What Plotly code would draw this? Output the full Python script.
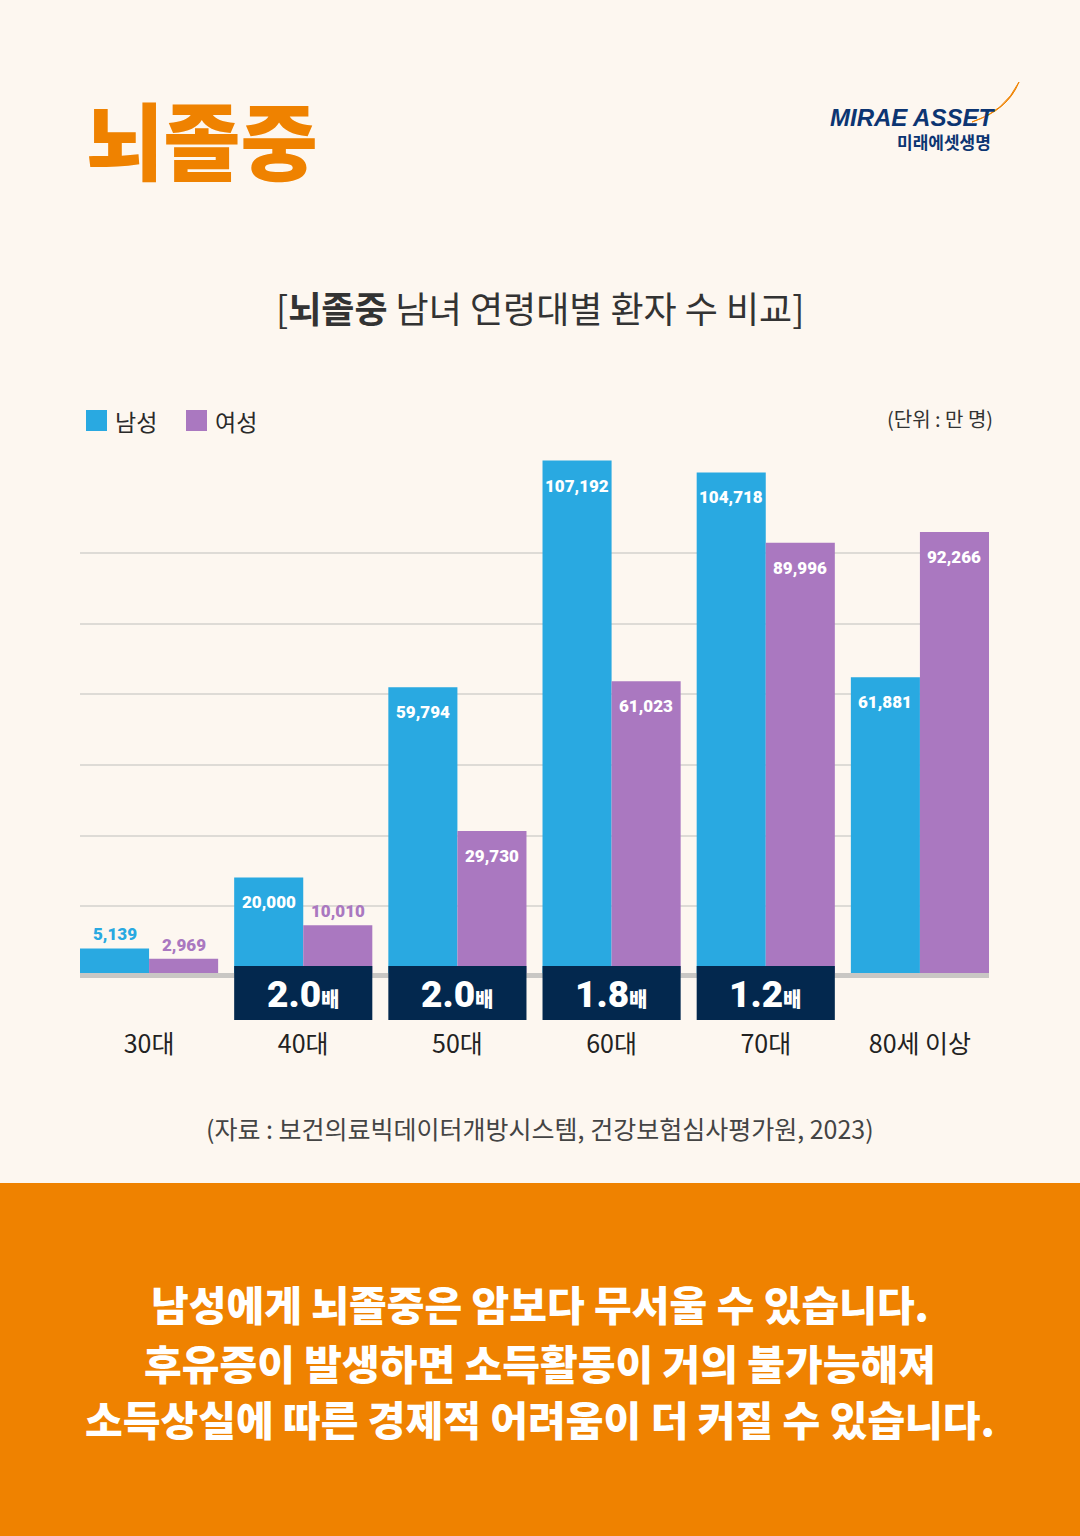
import plotly.graph_objects as go

# 뇌졸중 남녀 연령대별 환자 수 (단위: 만 명)
AGE_GROUPS = ["30대", "40대", "50대", "60대", "70대", "80세 이상"]
MALE = [5139, 20000, 59794, 107192, 104718, 61881]
FEMALE = [2969, 10010, 29730, 61023, 89996, 92266]
RATIO_LABELS = ["", "2.0", "2.0", "1.8", "1.2", ""]
GRID_LINES = [14000, 28700, 43500, 58300, 73000, 87800]

W, H = 1080, 1536
BG = "#fdf7f0"
BLUE = "#29a9e1"
PURPLE = "#aa78c0"
NAVY = "#03284e"
ORANGE = "#ef8200"
KR = "Noto Sans CJK KR"
NUM = "Roboto"
BARGAP = 0.104
HALF = (1 - BARGAP) / 2


def px(x):
    return x / W


def py(y):
    return 1 - y / H


xs = list(range(len(AGE_GROUPS)))

fig = go.Figure()
fig.add_trace(go.Bar(x=xs, y=MALE, name="남성", marker=dict(color=BLUE, line=dict(width=0))))
fig.add_trace(go.Bar(x=xs, y=FEMALE, name="여성", marker=dict(color=PURPLE, line=dict(width=0))))

shapes = []
annotations = []

# bottom orange band
shapes.append(dict(type="rect", xref="paper", yref="paper", x0=0, x1=1, y0=0, y1=py(1183),
                   fillcolor=ORANGE, line=dict(width=0), layer="below"))
# baseline
shapes.append(dict(type="line", xref="paper", yref="paper", x0=px(80), x1=px(989),
                   y0=py(975.5), y1=py(975.5), line=dict(color="#c9c7c4", width=5), layer="below"))

# value labels
for i in xs:
    for val, off, col in ((MALE[i], -HALF / 2, BLUE), (FEMALE[i], HALF / 2, PURPLE)):
        inside = val >= 15000
        annotations.append(dict(
            x=i + off, y=val, xref="x", yref="y", text=f"{val:,}", showarrow=False,
            yanchor="middle", yshift=-25 if inside else 14,
            font=dict(family=NUM, size=17, color="white" if inside else col, weight=900),
        ))

# ratio boxes
for i, r in zip(xs, RATIO_LABELS):
    if not r:
        continue
    shapes.append(dict(type="rect", xref="x", yref="paper", x0=i - HALF, x1=i + HALF,
                       y0=py(1020), y1=py(966), fillcolor=NAVY, line=dict(width=0), layer="above"))
    annotations.append(dict(
        x=i, y=py(994), xref="x", yref="paper", showarrow=False, yanchor="middle",
        text=f"{r}<span style='font-size:20px;font-family:{KR}'>배</span>",
        font=dict(family=NUM, size=37, color="white", weight=900),
    ))

# legend
for x0, col, label in ((86, BLUE, "남성"), (186, PURPLE, "여성")):
    shapes.append(dict(type="rect", xref="paper", yref="paper", x0=px(x0), x1=px(x0 + 21),
                       y0=py(431), y1=py(410), fillcolor=col, line=dict(width=0)))
    annotations.append(dict(x=px(x0 + 27), y=py(421), xref="paper", yref="paper", text=label,
                            showarrow=False, xanchor="left", yanchor="middle",
                            font=dict(family=KR, size=23, color="#2a2a2a")))

annotations.append(dict(x=px(995), y=py(418), xref="paper", yref="paper", text="(단위 : 만 명)",
                        showarrow=False, xanchor="right", yanchor="middle",
                        font=dict(family=KR, size=20, color="#333333")))

# titles
annotations.append(dict(x=px(84), y=py(137), xref="paper", yref="paper", text="뇌졸중",
                        showarrow=False, xanchor="left", yanchor="middle",
                        font=dict(family=KR, size=84, color=ORANGE, weight=900)))
annotations.append(dict(x=0.5, y=py(307), xref="paper", yref="paper",
                        text="[<b>뇌졸중</b> 남녀 연령대별 환자 수 비교]",
                        showarrow=False, yanchor="middle",
                        font=dict(family=KR, size=36, color="#333333")))

# logo
annotations.append(dict(x=px(997), y=py(117), xref="paper", yref="paper",
                        text="<b><i>MIRAE ASSET</i></b>", showarrow=False,
                        xanchor="right", yanchor="middle",
                        font=dict(family="Liberation Sans", size=24, color="#0c3572")))
annotations.append(dict(x=px(993), y=py(141), xref="paper", yref="paper",
                        text="<b>미래에셋생명</b>", showarrow=False,
                        xanchor="right", yanchor="middle",
                        font=dict(family=KR, size=17, color="#0c3572")))
swoosh = (f"M {px(972)},{py(122)} Q {px(1004)},{py(112)} {px(1019)},{py(82)} "
          f"Q {px(1008)},{py(110)} {px(972)},{py(122)} Z")
shapes.append(dict(type="path", xref="paper", yref="paper", path=swoosh,
                   fillcolor=ORANGE, line=dict(color=ORANGE, width=1)))

# source
annotations.append(dict(x=0.5, y=py(1128), xref="paper", yref="paper",
                        text="(자료 : 보건의료빅데이터개방시스템, 건강보험심사평가원, 2023)",
                        showarrow=False, yanchor="middle",
                        font=dict(family=KR, size=25, color="#444444")))

# message
for y, line in ((1303, "남성에게 뇌졸중은 암보다 무서울 수 있습니다."),
                (1362, "후유증이 발생하면 소득활동이 거의 불가능해져"),
                (1418, "소득상실에 따른 경제적 어려움이 더 커질 수 있습니다.")):
    annotations.append(dict(x=0.5, y=py(y), xref="paper", yref="paper", text=line,
                            showarrow=False, yanchor="middle",
                            font=dict(family=KR, size=41, color="white", weight=900)))

ymax = 110000
scale = 209.2  # patients per pixel
fig.update_layout(
    width=W, height=H, autosize=False,
    margin=dict(l=0, r=0, t=0, b=0),
    paper_bgcolor=BG, plot_bgcolor="rgba(0,0,0,0)",
    barmode="group", bargap=BARGAP, bargroupgap=0,
    showlegend=False,
    shapes=shapes, annotations=annotations,
    xaxis=dict(domain=[px(80), px(989)], range=[-HALF, len(xs) - 1 + HALF],
               tickvals=xs, ticktext=AGE_GROUPS, showgrid=False, zeroline=False,
               showline=False, ticks="", ticklabelstandoff=54,
               tickfont=dict(family=KR, size=25, color="#222222")),
    yaxis=dict(domain=[py(973), py(973 - ymax / scale)], range=[0, ymax],
               tickvals=GRID_LINES, showticklabels=False, showgrid=True,
               gridcolor="#dedbd6", gridwidth=1.5, zeroline=False, showline=False),
    font=dict(family=KR),
)

fig.write_html("out.html", config={"displayModeBar": False},
               post_script="document.body.style.margin='0';")
